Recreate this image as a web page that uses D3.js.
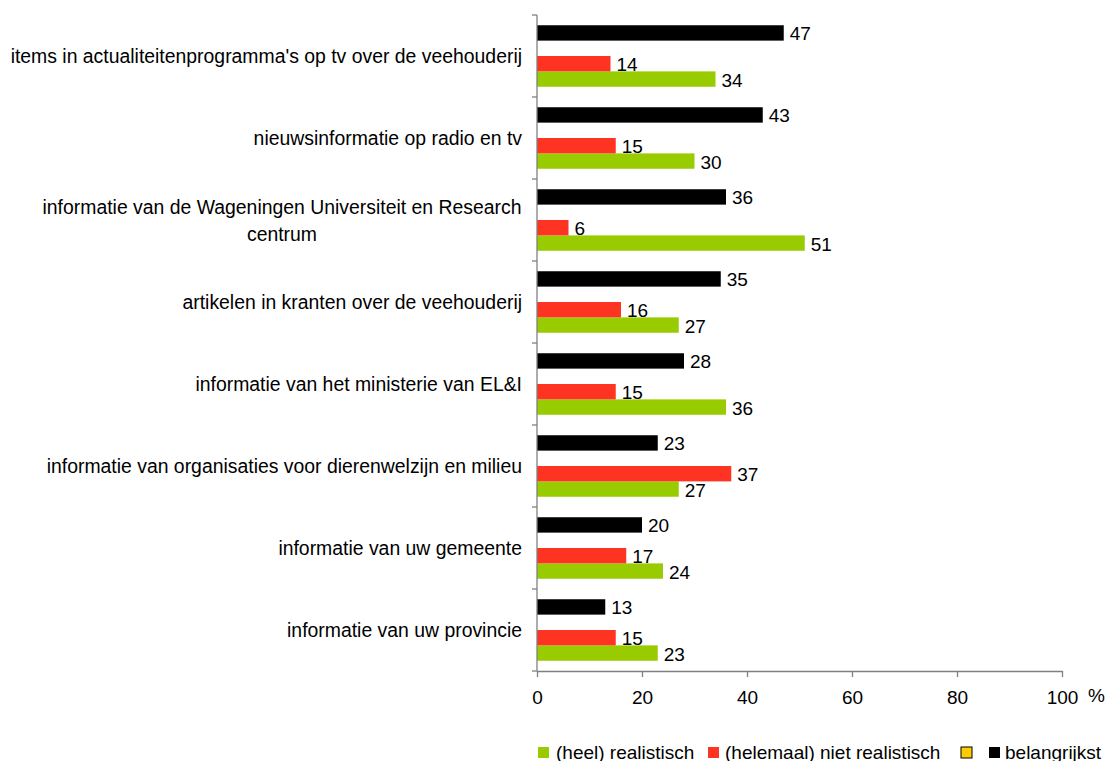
<!DOCTYPE html>
<html>
<head>
<meta charset="utf-8">
<script src="https://cdn.jsdelivr.net/npm/d3@7"></script>
<style>
  body { margin: 0; background: #fff; }
  text { font-family: "Liberation Sans", Arial, sans-serif; fill: #000; }
</style>
</head>
<body>
<div id="grafica"></div>
<script>
// data
var categories = [
  "items in actualiteitenprogramma's op tv over de veehouderij",
  "nieuwsinformatie op radio en tv",
  "informatie van de Wageningen Universiteit en Research|centrum",
  "artikelen in kranten over de veehouderij",
  "informatie van het ministerie van EL&I",
  "informatie van organisaties voor dierenwelzijn en milieu",
  "informatie van uw gemeente",
  "informatie van uw provincie"
];
var realistisch      = [34, 30, 51, 27, 36, 27, 24, 23];
var nietRealistisch  = [14, 15, 6, 16, 15, 37, 17, 15];
var leeg             = [null, null, null, null, null, null, null, null];
var belangrijkst     = [47, 43, 36, 35, 28, 23, 20, 13];
var xTicks = [0, 20, 40, 60, 80, 100];

var series = [
  { key: "green",  name: "(heel) realistisch",            color: "#99cc00", values: realistisch },
  { key: "red",    name: "(helemaal) niet realistisch",   color: "#ff3322", values: nietRealistisch },
  { key: "yellow", name: "",                              color: "#ffcc00", values: leeg },
  { key: "black",  name: "belangrijkst",                  color: "#000000", values: belangrijkst }
];

var W = 1108, H = 761;
var fs = "19px";
var fsCat = "19.4px";
var svg = d3.select("#grafica").append("svg")
  .attr("width", W).attr("height", H);

var x = d3.scaleLinear().domain([0, 100]).range([537, 1062]);
var y = d3.scaleBand().domain(categories).range([15, 671])
  .paddingInner(0.25).paddingOuter(0.125);
// top to bottom inside a group: black, yellow, red, green
var ySub = d3.scaleBand().domain(["black", "yellow", "red", "green"])
  .range([0, y.bandwidth()]);

var step = y.step();

// bars
series.forEach(function (s) {
  var g = svg.append("g");
  categories.forEach(function (c, i) {
    var v = s.values[i];
    if (v == null) return;
    var y0 = y(c) + ySub(s.key);
    g.append("rect")
      .attr("x", x(0))
      .attr("y", y0)
      .attr("width", x(v) - x(0))
      .attr("height", ySub.bandwidth())
      .attr("fill", s.color);
    g.append("text")
      .attr("x", x(v) + 6)
      .attr("y", y0 + ySub.bandwidth() / 2 + 1)
      .attr("dominant-baseline", "central")
      .style("font-size", fs)
      .text(v);
  });
});

// y axis line + ticks between categories
var axisColor = "#808080";
svg.append("line")
  .attr("x1", x(0)).attr("x2", x(0))
  .attr("y1", 15).attr("y2", 671)
  .attr("stroke", axisColor).attr("stroke-width", 1.3);
for (var k = 0; k <= categories.length; k++) {
  var ty = 15 + k * step;
  svg.append("line")
    .attr("x1", x(0) - 5).attr("x2", x(0))
    .attr("y1", ty).attr("y2", ty)
    .attr("stroke", axisColor).attr("stroke-width", 1.3);
}

// x axis
var xAxis = svg.append("g")
  .attr("transform", "translate(0,671)")
  .call(d3.axisBottom(x).tickValues(xTicks).tickSize(6).tickPadding(14).tickSizeOuter(0));
xAxis.select(".domain").attr("stroke", axisColor).attr("stroke-width", 1.3);
xAxis.selectAll(".tick line").attr("stroke", axisColor).attr("stroke-width", 1.3);
xAxis.selectAll(".tick text")
  .style("font-size", fs)
  .style("font-family", "'Liberation Sans', Arial, sans-serif")
  .attr("fill", "#000");

svg.append("text")
  .attr("x", 1088).attr("y", 695)
  .attr("dominant-baseline", "central")
  .style("font-size", fs)
  .text("%");

// category labels
categories.forEach(function (c) {
  var lines = c.split("|");
  var cy = y(c) + y.bandwidth() / 2;
  if (lines.length == 1) {
    svg.append("text")
      .attr("x", 522).attr("y", cy)
      .attr("text-anchor", "end")
      .attr("dominant-baseline", "central")
      .style("font-size", fsCat)
      .text(c);
  } else {
    var t = svg.append("text")
      .attr("text-anchor", "middle")
      .style("font-size", fsCat);
    lines.forEach(function (l, j) {
      t.append("tspan")
        .attr("x", 282)
        .attr("y", cy - 13.5 + j * 27)
        .attr("dominant-baseline", "central")
        .text(l);
    });
  }
});

// legend
var legendItems = [
  { s: series[0], sx: 538, tx: 556 },
  { s: series[1], sx: 708, tx: 725 },
  { s: series[2], sx: 961, tx: null },
  { s: series[3], sx: 989, tx: 1005 }
];
legendItems.forEach(function (it) {
  svg.append("rect")
    .attr("x", it.sx).attr("y", 747)
    .attr("width", 11).attr("height", 11)
    .attr("fill", it.s.color)
    .attr("stroke", it.s.key == "yellow" ? "#000" : "none")
    .attr("stroke-width", 1);
  if (it.tx != null) {
    svg.append("text")
      .attr("x", it.tx).attr("y", 752)
      .attr("dominant-baseline", "central")
      .style("font-size", fs)
      .text(it.s.name);
  }
});
</script>
</body>
</html>
